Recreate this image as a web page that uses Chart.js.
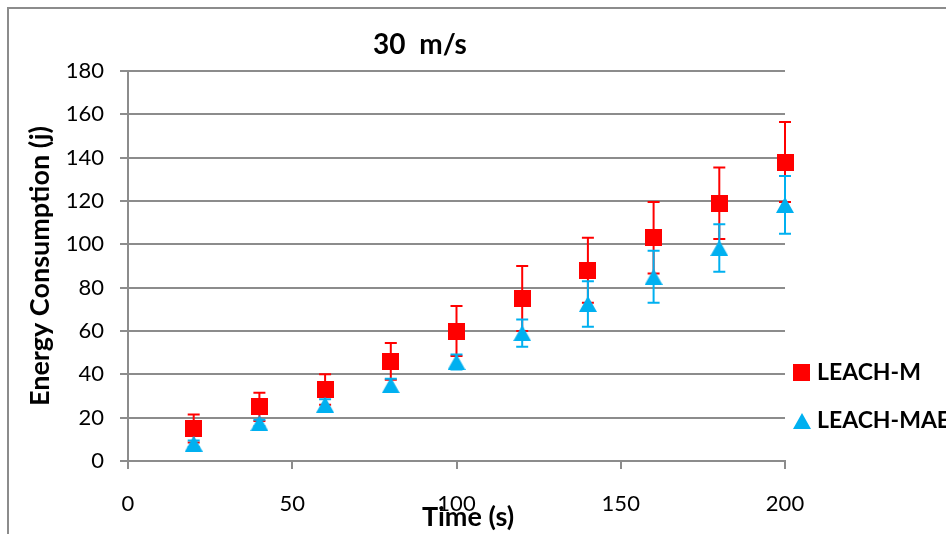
<!DOCTYPE html>
<html>
<head>
<meta charset="utf-8">
<title>Energy Consumption 30 m/s</title>
<script src="https://cdn.jsdelivr.net/npm/chart.js@4"></script>
<style>
  html, body { margin: 0; padding: 0; background: #fff; }
  #box { width: 946px; height: 534px; position: relative; }
</style>
</head>
<body>
<div id="box"><canvas id="graficoEnergia"></canvas></div>
<script>
const tempos = [20, 40, 60, 80, 100, 120, 140, 160, 180, 200];
const leachM = [15, 25, 33, 46, 60, 75, 88, 103, 119, 138];
const leachMErro = [6.5, 6.5, 7, 8.5, 11.5, 15, 15, 16.5, 16.5, 18.5];
const leachMAE = [8, 17.5, 26, 35, 45.7, 59, 72.5, 85, 98.3, 118.2];
const leachMAEErro = [1.5, 1.5, 2.5, 3, 3.5, 6.3, 10.5, 12, 11, 13.3];
const ticksY = [0, 20, 40, 60, 80, 100, 120, 140, 160, 180];
const ticksX = [0, 50, 100, 150, 200];

const vermelho = "#ff0000";
const azul = "#00b0f0";
const cinza = "#8c8c8c";
const fonte = "Lato, 'Open Sans', sans-serif";

// marcadores desenhados num canvas pequeno, centrados no ponto
function criarMarcador(forma, cor, w, h) {
  const c = document.createElement("canvas");
  c.width = w;
  c.height = h;
  const ctx = c.getContext("2d");
  ctx.fillStyle = cor;
  if (forma == "quadrado") {
    ctx.fillRect(0, 0, w, h);
  } else {
    ctx.beginPath();
    ctx.moveTo(w / 2, 0);
    ctx.lineTo(w, h);
    ctx.lineTo(0, h);
    ctx.closePath();
    ctx.fill();
  }
  return c;
}

const quadrado = criarMarcador("quadrado", vermelho, 17, 17);
const triangulo = criarMarcador("triangulo", azul, 18, 16);

function pontos(valores) {
  return tempos.map((t, i) => ({ x: t, y: valores[i] }));
}

const erros = [leachMErro, leachMAEErro];
const valores = [leachM, leachMAE];

const barrasErro = {
  id: "barrasErro",
  beforeDatasetDraw: (chart, args) => {
    const ctx = chart.ctx;
    const escalaY = chart.scales.y;
    const cor = chart.data.datasets[args.index].borderColor;
    const erro = erros[args.index];
    const vals = valores[args.index];
    ctx.save();
    ctx.strokeStyle = cor;
    ctx.lineWidth = 2;
    args.meta.data.forEach((pt, i) => {
      const yTopo = escalaY.getPixelForValue(vals[i] + erro[i]);
      const yBase = escalaY.getPixelForValue(vals[i] - erro[i]);
      ctx.beginPath();
      ctx.moveTo(pt.x, yTopo);
      ctx.lineTo(pt.x, yBase);
      ctx.moveTo(pt.x - 6, yTopo);
      ctx.lineTo(pt.x + 6, yTopo);
      ctx.moveTo(pt.x - 6, yBase);
      ctx.lineTo(pt.x + 6, yBase);
      ctx.stroke();
    });
    ctx.restore();
  },
};

const moldura = {
  id: "moldura",
  beforeDraw: (chart) => {
    const ctx = chart.ctx;
    ctx.save();
    ctx.strokeStyle = cinza;
    ctx.lineWidth = 2;
    ctx.beginPath();
    ctx.moveTo(8, 534);
    ctx.lineTo(8, 8);
    ctx.lineTo(946, 8);
    ctx.stroke();
    ctx.restore();
  },
  afterDraw: (chart) => {
    const ctx = chart.ctx;
    ctx.save();
    ctx.fillStyle = "#000";
    ctx.textAlign = "center";
    ctx.textBaseline = "middle";
    ctx.font = "bold 28px " + fonte;
    ctx.fillText("30  m/s", 420, 45);
    ctx.font = "bold 27px " + fonte;
    ctx.fillText("Time (s)", 468, 517);

    // legenda
    ctx.drawImage(quadrado, 793, 364);
    ctx.drawImage(triangulo, 793, 413);
    ctx.textAlign = "left";
    ctx.font = "bold 23px " + fonte;
    ctx.fillText("LEACH-M", 817, 373);
    ctx.fillText("LEACH-MAE", 817, 421);
    ctx.restore();
  },
};

const graficoEnergia = document.getElementById("graficoEnergia");

new Chart(graficoEnergia, {
  type: "scatter",
  plugins: [moldura, barrasErro],
  data: {
    datasets: [
      {
        label: "LEACH-M",
        data: pontos(leachM),
        borderColor: vermelho,
        backgroundColor: vermelho,
        pointStyle: quadrado,
        clip: false,
        order: 2,
      },
      {
        label: "LEACH-MAE",
        data: pontos(leachMAE),
        borderColor: azul,
        backgroundColor: azul,
        pointStyle: triangulo,
        clip: false,
        order: 1,
      },
    ],
  },
  options: {
    responsive: true,
    maintainAspectRatio: false,
    animation: false,
    layout: {
      padding: { left: 0, top: 71, right: 161, bottom: 0 },
    },
    plugins: {
      legend: { display: false },
      title: { display: false },
      tooltip: { enabled: false },
    },
    scales: {
      x: {
        type: "linear",
        min: 0,
        max: 200,
        afterFit: (escala) => {
          escala.height = 73;
        },
        afterBuildTicks: (escala) => {
          escala.ticks = ticksX.map((v) => ({ value: v }));
        },
        ticks: {
          color: "#000",
          padding: 22,
          font: { family: fonte, size: 22 },
          maxRotation: 0,
        },
        grid: {
          drawOnChartArea: false,
          drawTicks: true,
          tickLength: 8,
          color: cinza,
          lineWidth: 2,
        },
        border: { color: cinza, width: 2 },
      },
      y: {
        min: 0,
        max: 180,
        afterFit: (escala) => {
          escala.width = 128;
        },
        afterBuildTicks: (escala) => {
          escala.ticks = ticksY.map((v) => ({ value: v }));
        },
        ticks: {
          color: "#000",
          padding: 16,
          font: { family: fonte, size: 22 },
        },
        grid: {
          drawTicks: true,
          tickLength: 8,
          color: cinza,
          lineWidth: 2,
        },
        border: { color: cinza, width: 2 },
        title: {
          display: true,
          text: "Energy Consumption (j)",
          color: "#000",
          font: { family: fonte, size: 27, weight: "bold" },
          padding: { top: 24, bottom: 0 },
        },
      },
    },
  },
});
</script>
</body>
</html>
